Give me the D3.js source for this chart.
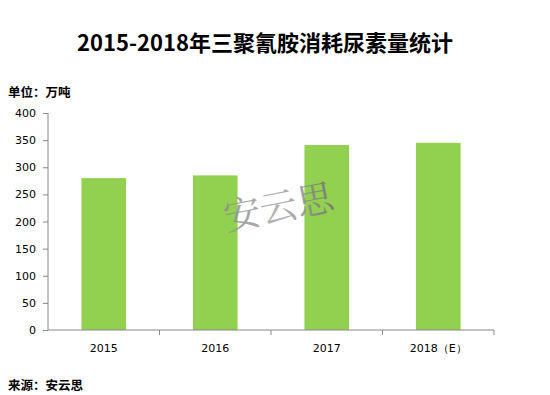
<!DOCTYPE html>
<meta charset="utf-8">
<html>
<head>
<script src="https://d3js.org/d3.v7.min.js"></script>
<style>
    body { margin: 0; background: #fff; }
    svg { display: block; }
    .tick text { font-family: "DejaVu Sans", Verdana, sans-serif; font-size: 11px; fill: #000; }
</style>
</head>
<body>
<svg id="chart"></svg>
<script>

var years = ["2015", "2016", "2017", "2018（E）"]
var usage = [280, 285, 341, 345]
var yTicks = [0, 50, 100, 150, 200, 250, 300, 350, 400]

var width = 550
var height = 395
var margin = {top: 113, right: 56, bottom: 65, left: 48}

var svg = d3.select("#chart")
    .attr("width", width)
    .attr("height", height)

var x = d3.scaleBand()
    .domain(years)
    .range([margin.left, width - margin.right])
    .paddingInner(0.6)
    .paddingOuter(0.3)

var y = d3.scaleLinear()
    .domain([0, 400])
    .range([height - margin.bottom, margin.top])

// title and notes
svg.append("text")
    .attr("x", 265).attr("y", 51)
    .attr("text-anchor", "middle")
    .style("font-family", "'Noto Sans CJK SC', sans-serif")
    .style("font-weight", "bold")
    .style("font-size", "22px")
    .text("2015-2018年三聚氰胺消耗尿素量统计")

svg.append("text")
    .attr("x", 8).attr("y", 97)
    .style("font-family", "'Noto Sans CJK SC', sans-serif")
    .style("font-weight", "bold")
    .style("font-size", "12.5px")
    .text("单位：万吨")

svg.append("text")
    .attr("x", 8).attr("y", 390)
    .style("font-family", "'Noto Sans CJK SC', sans-serif")
    .style("font-weight", "bold")
    .style("font-size", "12.5px")
    .text("来源：安云思")

// bars
svg.append("g")
    .selectAll("rect")
    .data(usage)
    .enter()
    .append("rect")
    .attr("x", (d, i) => x(years[i]))
    .attr("y", d => y(d))
    .attr("width", x.bandwidth())
    .attr("height", d => y(0) - y(d))
    .attr("fill", "#92D050")

// y axis
var yAxis = svg.append("g")
    .attr("transform", "translate(" + margin.left + ",0)")
    .call(d3.axisLeft(y).tickValues(yTicks).tickSize(5).tickPadding(7))
yAxis.selectAll("line, path").attr("stroke", "#888")
yAxis.select(".domain").attr("d", "M0," + y(400) + "V" + y(0))

// x axis with ticks between categories
var xAxis = svg.append("g")
    .attr("transform", "translate(0," + y(0) + ")")
xAxis.append("line")
    .attr("x1", margin.left).attr("x2", width - margin.right)
    .attr("stroke", "#888")
var bounds = [1, 2, 3, 4].map(i => margin.left + i * x.step())
xAxis.selectAll("line.sep")
    .data(bounds)
    .enter()
    .append("line")
    .attr("class", "sep")
    .attr("x1", d => d).attr("x2", d => d)
    .attr("y1", 0).attr("y2", 5)
    .attr("stroke", "#888")
xAxis.selectAll("text")
    .data(years)
    .enter()
    .append("text")
    .attr("x", d => x(d) + x.bandwidth() / 2)
    .attr("y", 22)
    .attr("text-anchor", "middle")
    .style("font-family", "'DejaVu Sans', Verdana, sans-serif")
    .style("font-size", "11px")
    .text(d => d)

// watermark
var grad = svg.append("defs").append("linearGradient")
    .attr("id", "wm")
grad.append("stop").attr("offset", "0%").attr("stop-color", "#8a8a8a")
grad.append("stop").attr("offset", "50%").attr("stop-color", "#a8a8a8")
grad.append("stop").attr("offset", "100%").attr("stop-color", "#707070")

svg.append("text")
    .attr("transform", "translate(281,220) rotate(-11)")
    .attr("text-anchor", "middle")
    .style("font-family", "'Noto Serif CJK SC', 'Noto Sans CJK SC', serif")
    .style("font-size", "37px")
    .attr("fill", "url(#wm)")
    .attr("opacity", 0.85)
    .text("安云思")
</script>
</body>
</html>
